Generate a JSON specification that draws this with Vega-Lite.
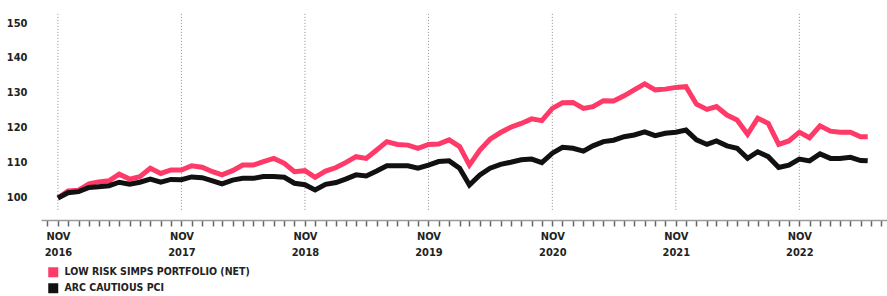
{
  "$schema": "https://vega.github.io/schema/vega-lite/v6.json",
  "width": 846,
  "height": 207,
  "autosize": {"type": "none"},
  "padding": {"left": 41, "top": 13, "right": 0, "bottom": 76},
  "config": {"view": {"stroke": null}, "font": "DejaVu Sans Condensed", "axisX": {"ticks": true, "tickColor": "#666666", "tickWidth": 1.5, "tickSize": 6}},
  "layer": [
    {
      "data": {"values": [
        {"date": "2016-11-01"}, {"date": "2017-11-01"}, {"date": "2018-11-01"}, {"date": "2019-11-01"},
        {"date": "2020-11-01"}, {"date": "2021-11-01"}, {"date": "2022-11-01"}
      ]},
      "mark": {"type": "rule", "color": "#8c8c8c", "strokeWidth": 1, "strokeDash": [1, 2]},
      "encoding": {
        "x": {"field": "date", "type": "temporal", "title": null,
              "scale": {"type": "utc", "domain": [{"year": 2016, "month": 9, "date": 12, "utc": true}, {"year": 2023, "month": 7, "date": 18, "utc": true}]}},
        "y": {"datum": 96.6, "type": "quantitative", "scale": {"domain": [93.7, 152.86], "nice": false, "zero": false}},
        "y2": {"datum": 152.86}
      }
    },
    {
      "data": {"values": [
        {"date": "2016-11-01", "series": "LOW RISK SIMPS PORTFOLIO (NET)", "value": 100.0},
        {"date": "2016-12-01", "series": "LOW RISK SIMPS PORTFOLIO (NET)", "value": 102.0},
        {"date": "2017-01-01", "series": "LOW RISK SIMPS PORTFOLIO (NET)", "value": 102.2},
        {"date": "2017-02-01", "series": "LOW RISK SIMPS PORTFOLIO (NET)", "value": 104.0},
        {"date": "2017-03-01", "series": "LOW RISK SIMPS PORTFOLIO (NET)", "value": 104.6},
        {"date": "2017-04-01", "series": "LOW RISK SIMPS PORTFOLIO (NET)", "value": 104.9},
        {"date": "2017-05-01", "series": "LOW RISK SIMPS PORTFOLIO (NET)", "value": 106.8},
        {"date": "2017-06-01", "series": "LOW RISK SIMPS PORTFOLIO (NET)", "value": 105.4},
        {"date": "2017-07-01", "series": "LOW RISK SIMPS PORTFOLIO (NET)", "value": 106.1},
        {"date": "2017-08-01", "series": "LOW RISK SIMPS PORTFOLIO (NET)", "value": 108.5},
        {"date": "2017-09-01", "series": "LOW RISK SIMPS PORTFOLIO (NET)", "value": 107.0},
        {"date": "2017-10-01", "series": "LOW RISK SIMPS PORTFOLIO (NET)", "value": 108.0},
        {"date": "2017-11-01", "series": "LOW RISK SIMPS PORTFOLIO (NET)", "value": 108.0},
        {"date": "2017-12-01", "series": "LOW RISK SIMPS PORTFOLIO (NET)", "value": 109.2},
        {"date": "2018-01-01", "series": "LOW RISK SIMPS PORTFOLIO (NET)", "value": 108.8},
        {"date": "2018-02-01", "series": "LOW RISK SIMPS PORTFOLIO (NET)", "value": 107.5},
        {"date": "2018-03-01", "series": "LOW RISK SIMPS PORTFOLIO (NET)", "value": 106.6},
        {"date": "2018-04-01", "series": "LOW RISK SIMPS PORTFOLIO (NET)", "value": 107.8},
        {"date": "2018-05-01", "series": "LOW RISK SIMPS PORTFOLIO (NET)", "value": 109.4},
        {"date": "2018-06-01", "series": "LOW RISK SIMPS PORTFOLIO (NET)", "value": 109.4},
        {"date": "2018-07-01", "series": "LOW RISK SIMPS PORTFOLIO (NET)", "value": 110.4},
        {"date": "2018-08-01", "series": "LOW RISK SIMPS PORTFOLIO (NET)", "value": 111.3},
        {"date": "2018-09-01", "series": "LOW RISK SIMPS PORTFOLIO (NET)", "value": 109.9},
        {"date": "2018-10-01", "series": "LOW RISK SIMPS PORTFOLIO (NET)", "value": 107.5},
        {"date": "2018-11-01", "series": "LOW RISK SIMPS PORTFOLIO (NET)", "value": 107.8},
        {"date": "2018-12-01", "series": "LOW RISK SIMPS PORTFOLIO (NET)", "value": 105.9},
        {"date": "2019-01-01", "series": "LOW RISK SIMPS PORTFOLIO (NET)", "value": 107.7},
        {"date": "2019-02-01", "series": "LOW RISK SIMPS PORTFOLIO (NET)", "value": 108.7},
        {"date": "2019-03-01", "series": "LOW RISK SIMPS PORTFOLIO (NET)", "value": 110.1},
        {"date": "2019-04-01", "series": "LOW RISK SIMPS PORTFOLIO (NET)", "value": 111.8},
        {"date": "2019-05-01", "series": "LOW RISK SIMPS PORTFOLIO (NET)", "value": 111.3},
        {"date": "2019-06-01", "series": "LOW RISK SIMPS PORTFOLIO (NET)", "value": 113.7},
        {"date": "2019-07-01", "series": "LOW RISK SIMPS PORTFOLIO (NET)", "value": 116.1},
        {"date": "2019-08-01", "series": "LOW RISK SIMPS PORTFOLIO (NET)", "value": 115.3},
        {"date": "2019-09-01", "series": "LOW RISK SIMPS PORTFOLIO (NET)", "value": 115.1},
        {"date": "2019-10-01", "series": "LOW RISK SIMPS PORTFOLIO (NET)", "value": 114.2},
        {"date": "2019-11-01", "series": "LOW RISK SIMPS PORTFOLIO (NET)", "value": 115.3},
        {"date": "2019-12-01", "series": "LOW RISK SIMPS PORTFOLIO (NET)", "value": 115.4},
        {"date": "2020-01-01", "series": "LOW RISK SIMPS PORTFOLIO (NET)", "value": 116.6},
        {"date": "2020-02-01", "series": "LOW RISK SIMPS PORTFOLIO (NET)", "value": 114.7},
        {"date": "2020-03-01", "series": "LOW RISK SIMPS PORTFOLIO (NET)", "value": 109.4},
        {"date": "2020-04-01", "series": "LOW RISK SIMPS PORTFOLIO (NET)", "value": 113.7},
        {"date": "2020-05-01", "series": "LOW RISK SIMPS PORTFOLIO (NET)", "value": 116.8},
        {"date": "2020-06-01", "series": "LOW RISK SIMPS PORTFOLIO (NET)", "value": 118.7},
        {"date": "2020-07-01", "series": "LOW RISK SIMPS PORTFOLIO (NET)", "value": 120.2},
        {"date": "2020-08-01", "series": "LOW RISK SIMPS PORTFOLIO (NET)", "value": 121.3},
        {"date": "2020-09-01", "series": "LOW RISK SIMPS PORTFOLIO (NET)", "value": 122.6},
        {"date": "2020-10-01", "series": "LOW RISK SIMPS PORTFOLIO (NET)", "value": 122.1},
        {"date": "2020-11-01", "series": "LOW RISK SIMPS PORTFOLIO (NET)", "value": 125.6},
        {"date": "2020-12-01", "series": "LOW RISK SIMPS PORTFOLIO (NET)", "value": 127.2},
        {"date": "2021-01-01", "series": "LOW RISK SIMPS PORTFOLIO (NET)", "value": 127.3},
        {"date": "2021-02-01", "series": "LOW RISK SIMPS PORTFOLIO (NET)", "value": 125.6},
        {"date": "2021-03-01", "series": "LOW RISK SIMPS PORTFOLIO (NET)", "value": 126.1},
        {"date": "2021-04-01", "series": "LOW RISK SIMPS PORTFOLIO (NET)", "value": 127.8},
        {"date": "2021-05-01", "series": "LOW RISK SIMPS PORTFOLIO (NET)", "value": 127.7},
        {"date": "2021-06-01", "series": "LOW RISK SIMPS PORTFOLIO (NET)", "value": 129.2},
        {"date": "2021-07-01", "series": "LOW RISK SIMPS PORTFOLIO (NET)", "value": 130.9},
        {"date": "2021-08-01", "series": "LOW RISK SIMPS PORTFOLIO (NET)", "value": 132.6},
        {"date": "2021-09-01", "series": "LOW RISK SIMPS PORTFOLIO (NET)", "value": 130.9},
        {"date": "2021-10-01", "series": "LOW RISK SIMPS PORTFOLIO (NET)", "value": 131.1},
        {"date": "2021-11-01", "series": "LOW RISK SIMPS PORTFOLIO (NET)", "value": 131.6},
        {"date": "2021-12-01", "series": "LOW RISK SIMPS PORTFOLIO (NET)", "value": 131.8},
        {"date": "2022-01-01", "series": "LOW RISK SIMPS PORTFOLIO (NET)", "value": 126.8},
        {"date": "2022-02-01", "series": "LOW RISK SIMPS PORTFOLIO (NET)", "value": 125.3},
        {"date": "2022-03-01", "series": "LOW RISK SIMPS PORTFOLIO (NET)", "value": 126.1},
        {"date": "2022-04-01", "series": "LOW RISK SIMPS PORTFOLIO (NET)", "value": 123.7},
        {"date": "2022-05-01", "series": "LOW RISK SIMPS PORTFOLIO (NET)", "value": 122.3},
        {"date": "2022-06-01", "series": "LOW RISK SIMPS PORTFOLIO (NET)", "value": 118.2},
        {"date": "2022-07-01", "series": "LOW RISK SIMPS PORTFOLIO (NET)", "value": 122.8},
        {"date": "2022-08-01", "series": "LOW RISK SIMPS PORTFOLIO (NET)", "value": 121.3},
        {"date": "2022-09-01", "series": "LOW RISK SIMPS PORTFOLIO (NET)", "value": 115.3},
        {"date": "2022-10-01", "series": "LOW RISK SIMPS PORTFOLIO (NET)", "value": 116.3},
        {"date": "2022-11-01", "series": "LOW RISK SIMPS PORTFOLIO (NET)", "value": 118.8},
        {"date": "2022-12-01", "series": "LOW RISK SIMPS PORTFOLIO (NET)", "value": 117.2},
        {"date": "2023-01-01", "series": "LOW RISK SIMPS PORTFOLIO (NET)", "value": 120.6},
        {"date": "2023-02-01", "series": "LOW RISK SIMPS PORTFOLIO (NET)", "value": 119.1},
        {"date": "2023-03-01", "series": "LOW RISK SIMPS PORTFOLIO (NET)", "value": 118.8},
        {"date": "2023-04-01", "series": "LOW RISK SIMPS PORTFOLIO (NET)", "value": 118.8},
        {"date": "2023-05-01", "series": "LOW RISK SIMPS PORTFOLIO (NET)", "value": 117.5},
        {"date": "2023-05-22", "series": "LOW RISK SIMPS PORTFOLIO (NET)", "value": 117.5},
        {"date": "2016-11-01", "series": "ARC CAUTIOUS PCI", "value": 100.0},
        {"date": "2016-12-01", "series": "ARC CAUTIOUS PCI", "value": 101.5},
        {"date": "2017-01-01", "series": "ARC CAUTIOUS PCI", "value": 101.8},
        {"date": "2017-02-01", "series": "ARC CAUTIOUS PCI", "value": 103.0},
        {"date": "2017-03-01", "series": "ARC CAUTIOUS PCI", "value": 103.2},
        {"date": "2017-04-01", "series": "ARC CAUTIOUS PCI", "value": 103.5},
        {"date": "2017-05-01", "series": "ARC CAUTIOUS PCI", "value": 104.5},
        {"date": "2017-06-01", "series": "ARC CAUTIOUS PCI", "value": 103.9},
        {"date": "2017-07-01", "series": "ARC CAUTIOUS PCI", "value": 104.5},
        {"date": "2017-08-01", "series": "ARC CAUTIOUS PCI", "value": 105.4},
        {"date": "2017-09-01", "series": "ARC CAUTIOUS PCI", "value": 104.5},
        {"date": "2017-10-01", "series": "ARC CAUTIOUS PCI", "value": 105.3},
        {"date": "2017-11-01", "series": "ARC CAUTIOUS PCI", "value": 105.2},
        {"date": "2017-12-01", "series": "ARC CAUTIOUS PCI", "value": 106.0},
        {"date": "2018-01-01", "series": "ARC CAUTIOUS PCI", "value": 105.8},
        {"date": "2018-02-01", "series": "ARC CAUTIOUS PCI", "value": 104.9},
        {"date": "2018-03-01", "series": "ARC CAUTIOUS PCI", "value": 104.0},
        {"date": "2018-04-01", "series": "ARC CAUTIOUS PCI", "value": 105.1},
        {"date": "2018-05-01", "series": "ARC CAUTIOUS PCI", "value": 105.6},
        {"date": "2018-06-01", "series": "ARC CAUTIOUS PCI", "value": 105.6},
        {"date": "2018-07-01", "series": "ARC CAUTIOUS PCI", "value": 106.1},
        {"date": "2018-08-01", "series": "ARC CAUTIOUS PCI", "value": 106.1},
        {"date": "2018-09-01", "series": "ARC CAUTIOUS PCI", "value": 105.9},
        {"date": "2018-10-01", "series": "ARC CAUTIOUS PCI", "value": 104.2},
        {"date": "2018-11-01", "series": "ARC CAUTIOUS PCI", "value": 103.8},
        {"date": "2018-12-01", "series": "ARC CAUTIOUS PCI", "value": 102.3},
        {"date": "2019-01-01", "series": "ARC CAUTIOUS PCI", "value": 103.9},
        {"date": "2019-02-01", "series": "ARC CAUTIOUS PCI", "value": 104.4},
        {"date": "2019-03-01", "series": "ARC CAUTIOUS PCI", "value": 105.4},
        {"date": "2019-04-01", "series": "ARC CAUTIOUS PCI", "value": 106.6},
        {"date": "2019-05-01", "series": "ARC CAUTIOUS PCI", "value": 106.3},
        {"date": "2019-06-01", "series": "ARC CAUTIOUS PCI", "value": 107.7},
        {"date": "2019-07-01", "series": "ARC CAUTIOUS PCI", "value": 109.2},
        {"date": "2019-08-01", "series": "ARC CAUTIOUS PCI", "value": 109.2},
        {"date": "2019-09-01", "series": "ARC CAUTIOUS PCI", "value": 109.2},
        {"date": "2019-10-01", "series": "ARC CAUTIOUS PCI", "value": 108.5},
        {"date": "2019-11-01", "series": "ARC CAUTIOUS PCI", "value": 109.4},
        {"date": "2019-12-01", "series": "ARC CAUTIOUS PCI", "value": 110.4},
        {"date": "2020-01-01", "series": "ARC CAUTIOUS PCI", "value": 110.6},
        {"date": "2020-02-01", "series": "ARC CAUTIOUS PCI", "value": 108.5},
        {"date": "2020-03-01", "series": "ARC CAUTIOUS PCI", "value": 103.7},
        {"date": "2020-04-01", "series": "ARC CAUTIOUS PCI", "value": 106.6},
        {"date": "2020-05-01", "series": "ARC CAUTIOUS PCI", "value": 108.5},
        {"date": "2020-06-01", "series": "ARC CAUTIOUS PCI", "value": 109.6},
        {"date": "2020-07-01", "series": "ARC CAUTIOUS PCI", "value": 110.2},
        {"date": "2020-08-01", "series": "ARC CAUTIOUS PCI", "value": 110.9},
        {"date": "2020-09-01", "series": "ARC CAUTIOUS PCI", "value": 111.1},
        {"date": "2020-10-01", "series": "ARC CAUTIOUS PCI", "value": 110.1},
        {"date": "2020-11-01", "series": "ARC CAUTIOUS PCI", "value": 112.8},
        {"date": "2020-12-01", "series": "ARC CAUTIOUS PCI", "value": 114.5},
        {"date": "2021-01-01", "series": "ARC CAUTIOUS PCI", "value": 114.2},
        {"date": "2021-02-01", "series": "ARC CAUTIOUS PCI", "value": 113.4},
        {"date": "2021-03-01", "series": "ARC CAUTIOUS PCI", "value": 114.9},
        {"date": "2021-04-01", "series": "ARC CAUTIOUS PCI", "value": 116.1},
        {"date": "2021-05-01", "series": "ARC CAUTIOUS PCI", "value": 116.5},
        {"date": "2021-06-01", "series": "ARC CAUTIOUS PCI", "value": 117.5},
        {"date": "2021-07-01", "series": "ARC CAUTIOUS PCI", "value": 118.0},
        {"date": "2021-08-01", "series": "ARC CAUTIOUS PCI", "value": 118.9},
        {"date": "2021-09-01", "series": "ARC CAUTIOUS PCI", "value": 117.8},
        {"date": "2021-10-01", "series": "ARC CAUTIOUS PCI", "value": 118.5},
        {"date": "2021-11-01", "series": "ARC CAUTIOUS PCI", "value": 118.8},
        {"date": "2021-12-01", "series": "ARC CAUTIOUS PCI", "value": 119.4},
        {"date": "2022-01-01", "series": "ARC CAUTIOUS PCI", "value": 116.6},
        {"date": "2022-02-01", "series": "ARC CAUTIOUS PCI", "value": 115.3},
        {"date": "2022-03-01", "series": "ARC CAUTIOUS PCI", "value": 116.3},
        {"date": "2022-04-01", "series": "ARC CAUTIOUS PCI", "value": 114.9},
        {"date": "2022-05-01", "series": "ARC CAUTIOUS PCI", "value": 114.2},
        {"date": "2022-06-01", "series": "ARC CAUTIOUS PCI", "value": 111.3},
        {"date": "2022-07-01", "series": "ARC CAUTIOUS PCI", "value": 113.2},
        {"date": "2022-08-01", "series": "ARC CAUTIOUS PCI", "value": 111.8},
        {"date": "2022-09-01", "series": "ARC CAUTIOUS PCI", "value": 108.7},
        {"date": "2022-10-01", "series": "ARC CAUTIOUS PCI", "value": 109.4},
        {"date": "2022-11-01", "series": "ARC CAUTIOUS PCI", "value": 111.1},
        {"date": "2022-12-01", "series": "ARC CAUTIOUS PCI", "value": 110.6},
        {"date": "2023-01-01", "series": "ARC CAUTIOUS PCI", "value": 112.6},
        {"date": "2023-02-01", "series": "ARC CAUTIOUS PCI", "value": 111.3},
        {"date": "2023-03-01", "series": "ARC CAUTIOUS PCI", "value": 111.3},
        {"date": "2023-04-01", "series": "ARC CAUTIOUS PCI", "value": 111.6},
        {"date": "2023-05-01", "series": "ARC CAUTIOUS PCI", "value": 110.7},
        {"date": "2023-05-22", "series": "ARC CAUTIOUS PCI", "value": 110.6}
      ]},
      "mark": {"type": "line", "strokeWidth": 5},
      "encoding": {
        "x": {
          "field": "date", "type": "temporal", "title": null,
          "scale": {"type": "utc", "domain": [{"year": 2016, "month": 9, "date": 12, "utc": true}, {"year": 2023, "month": 7, "date": 18, "utc": true}]},
          "axis": {
            "tickCount": {"interval": "month", "step": 1},
            "grid": false,
            "domain": true, "domainColor": "#9a9a9a", "domainWidth": 1.5,
            "labelExpr": "utcmonth(datum.value) == 10 ? ['NOV', utcFormat(datum.value, '%Y')] : ''",
            "labelOverlap": false, "labelFlush": false, "labelBound": false,
            "labelFont": "DejaVu Sans Condensed", "labelFontSize": 11, "labelFontWeight": "bold",
            "labelColor": "#222222", "labelPadding": 4, "labelLineHeight": 16
          }
        },
        "y": {
          "field": "value", "type": "quantitative", "title": null,
          "scale": {"domain": [93.7, 152.86], "nice": false, "zero": false},
          "axis": {
            "values": [100, 110, 120, 130, 140, 150],
            "domain": false, "ticks": false,
            "gridColor": "#9e9e9e", "gridWidth": 1.5,
            "labelFont": "DejaVu Sans Condensed", "labelFontSize": 11, "labelFontWeight": "bold",
            "labelColor": "#222222", "labelPadding": 14
          }
        },
        "color": {
          "field": "series", "type": "nominal",
          "scale": {"domain": ["LOW RISK SIMPS PORTFOLIO (NET)", "ARC CAUTIOUS PCI"], "range": ["#ff3a68", "#111111"]},
          "legend": {
            "title": null, "orient": "none", "legendX": 7, "legendY": 254,
            "symbolType": "square", "symbolSize": 100, "symbolStrokeWidth": 0,
            "labelFont": "DejaVu Sans Condensed", "labelFontSize": 10.5, "labelFontWeight": "bold",
            "labelColor": "#222222", "labelOffset": 6, "rowPadding": 5, "labelLimit": 0,
            "encode": {"symbols": {"update": {"fill": {"scale": "color", "field": "value"}, "strokeWidth": {"value": 0}, "opacity": {"value": 1}}}}
          }
        }
      }
    }
  ]
}
